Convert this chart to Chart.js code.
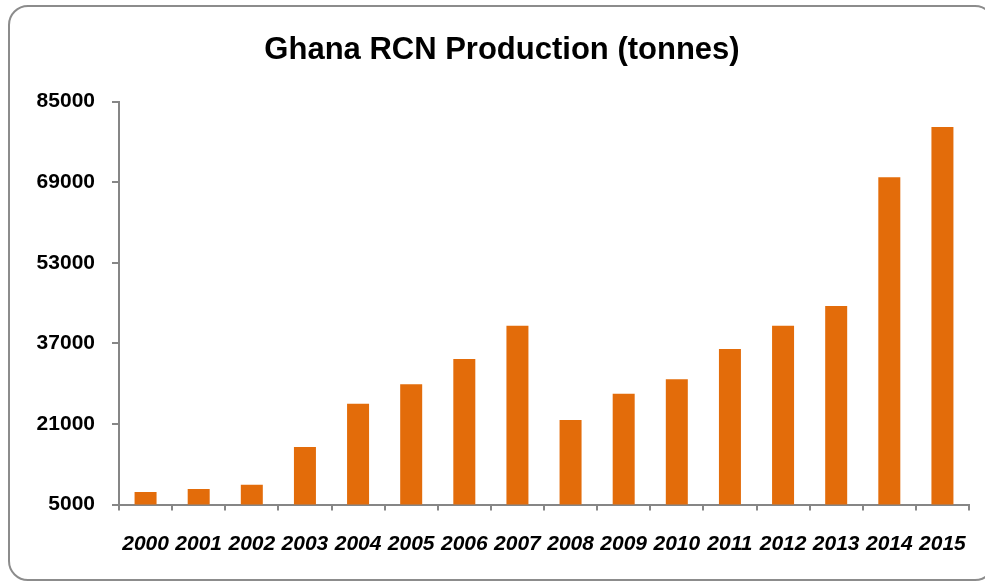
<!DOCTYPE html>
<html>
<head>
<meta charset="utf-8">
<script src="https://cdn.jsdelivr.net/npm/chart.js@4/dist/chart.umd.min.js"></script>
<style>
  html, body { margin: 0; padding: 0; background: #fff; overflow: hidden; width: 985px; height: 583px; }
  #frame { position: absolute; left: 8px; top: 5px; width: 987px; height: 576px; border: 2px solid #8c8c8c; border-radius: 20px; box-sizing: border-box; }
  #c { position: absolute; left: 35px; top: 0; }
</style>
</head>
<body>
<div id="frame"></div>
<canvas id="c" width="969" height="583" style="width:969px;height:583px"></canvas>
<script>
const titleText = 'Ghana RCN Production (tonnes)';
const years = ['2000','2001','2002','2003','2004','2005','2006','2007','2008','2009','2010','2011','2012','2013','2014','2015'];
const production = [7500, 8100, 8900, 16400, 25000, 28900, 33900, 40500, 21800, 27000, 29900, 35900, 40500, 44400, 70000, 80000];
const yMin = 5000;
const yMax = 85000;
const yStep = 16000;

const FONT = "'Liberation Sans', Arial, sans-serif";
const axisGrey = '#868686';

new Chart(document.getElementById('c'), {
  type: 'bar',
  data: {
    labels: years,
    datasets: [{
      data: production,
      backgroundColor: '#E36C0A',
      borderWidth: 0,
      categoryPercentage: 1.0,
      barPercentage: 0.414
    }]
  },
  options: {
    responsive: false,
    animation: false,
    layout: { padding: { left: 0, right: 35, top: 0, bottom: 0 } },
    plugins: {
      legend: { display: false },
      tooltip: { enabled: false },
      title: {
        display: true,
        text: titleText,
        color: '#000',
        font: { family: FONT, size: 31, weight: 'bold' },
        padding: { top: 32, bottom: 32.5 }
      }
    },
    scales: {
      x: {
        grid: { display: true, drawOnChartArea: false, drawTicks: true, tickLength: 6, color: axisGrey, lineWidth: 2, offset: true },
        border: { display: true, color: axisGrey, width: 2 },
        ticks: { color: '#000', font: { family: FONT, size: 21, weight: 'bold', style: 'italic' }, padding: 21, maxRotation: 0, autoSkip: false },
        afterFit: (s) => { s.height = 78.5; }
      },
      y: {
        min: yMin,
        max: yMax,
        grid: { display: true, drawOnChartArea: false, drawTicks: true, tickLength: 7, color: axisGrey, lineWidth: 2 },
        border: { display: true, color: axisGrey, width: 2 },
        ticks: {
          stepSize: yStep,
          color: '#000',
          font: { family: FONT, size: 21, weight: 'bold' },
          padding: 17,
          callback: (v) => String(v)
        },
        afterFit: (s) => { s.width = 84; }
      }
    }
  }
});
</script>
</body>
</html>
